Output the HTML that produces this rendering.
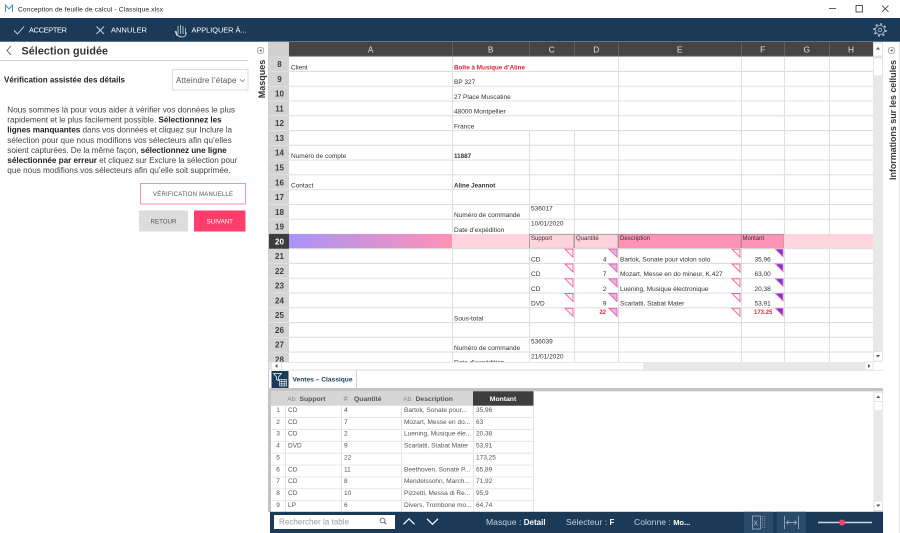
<!DOCTYPE html>
<html><head><meta charset="utf-8"><style>
html,body{margin:0;padding:0;background:#fff;}
svg{display:block;font-family:"Liberation Sans",sans-serif;}
</style></head><body>
<svg width="900" height="533" viewBox="0 0 900 533" xmlns="http://www.w3.org/2000/svg" font-family="'Liberation Sans', sans-serif">
<defs>
<linearGradient id="g1" x1="0" x2="1" y1="0" y2="0"><stop offset="0" stop-color="#a993f7"/><stop offset="1" stop-color="#ff92b6"/></linearGradient>
<clipPath id="gc"><rect x="269" y="42" width="604" height="320"/></clipPath>
</defs>
<rect x="0" y="0" width="900" height="533" fill="#fff"/>
<!-- title bar -->
<path d="M5.5 12 V5 L9 9 L12.5 5 V12" stroke="#3b8ed8" stroke-width="1" fill="none"/>
<text x="18" y="11.3" font-size="6.6" fill="#222" textLength="145">Conception de feuille de calcul - Classique.xlsx</text>
<line x1="829" y1="8.5" x2="836" y2="8.5" stroke="#333" stroke-width="0.8"/>
<rect x="856" y="5.5" width="6.5" height="6.5" fill="none" stroke="#333" stroke-width="0.8"/>
<path d="M882 5.5 L888.5 12 M888.5 5.5 L882 12" stroke="#333" stroke-width="0.8"/>
<!-- toolbar -->
<rect x="0" y="18" width="900" height="23.7" fill="#1a3a58"/>
<polyline points="14,30.5 17.5,34 24,26.5" fill="none" stroke="#cfd8e0" stroke-width="0.9"/>
<text x="29" y="32.4" font-size="7.4" fill="#fff" textLength="38">ACCEPTER</text>
<path d="M96.5 26.5 L104 34 M104 26.5 L96.5 34" stroke="#cfd8e0" stroke-width="0.9"/>
<text x="111" y="32.4" font-size="7.4" fill="#fff" textLength="36">ANNULER</text>
<path d="M177 36 L175 31 M178 34 V26 M180.5 34 V25 M183 34 V26 M185.5 34 V28 M176 31 Q177 37 182 37 Q186.5 37 186 32" stroke="#cfd8e0" fill="none" stroke-width="0.8"/>
<text x="191.5" y="32.4" font-size="7.4" fill="#fff" textLength="55">APPLIQUER À...</text>
<circle cx="880" cy="30" r="4.6" fill="none" stroke="#b8c4d0" stroke-width="0.8"/>
<circle cx="880" cy="30" r="6" fill="none" stroke="#b8c4d0" stroke-width="1.6" stroke-dasharray="2 2.7"/>
<circle cx="880" cy="30" r="1.8" fill="none" stroke="#b8c4d0" stroke-width="0.8"/>
<!-- left panel -->
<polyline points="11,46 7,50.5 11,55" fill="none" stroke="#555" stroke-width="0.9"/>
<text x="21.5" y="54.3" font-size="10.7" font-weight="bold" fill="#333" textLength="86.5">Sélection guidée</text>
<line x1="0" y1="60.5" x2="248" y2="60.5" stroke="#d2d2d2" stroke-width="1"/>
<circle cx="260.5" cy="50.5" r="3.3" fill="none" stroke="#888" stroke-width="0.7"/>
<polygon points="259.2,50.5 261.5,49 261.5,52" fill="#555"/>
<text transform="translate(264.8,79) rotate(-90)" text-anchor="middle" font-size="9" font-weight="bold" fill="#333">Masques</text>
<text x="4" y="82.7" font-size="8" font-weight="bold" fill="#222" textLength="121">Vérification assistée des détails</text>
<rect x="172.5" y="69.5" width="75.5" height="20.5" fill="#fff" stroke="#dcdcdc" stroke-width="1"/>
<text x="176" y="83" font-size="8" fill="#555" textLength="60.5">Atteindre l’étape</text>
<polyline points="240,79.3 242.5,81.8 245,79.3" fill="none" stroke="#777" stroke-width="0.7"/>
<g font-size="8.2" fill="#444">
<text x="7.3" y="112.3" textLength="227.7">Nous sommes là pour vous aider à vérifier vos données le plus</text>
<text x="7.3" y="122.45" textLength="214.4">rapidement et le plus facilement possible. <tspan font-weight="bold" fill="#222">Sélectionnez les</tspan></text>
<text x="7.3" y="132.6" textLength="224.7"><tspan font-weight="bold" fill="#222">lignes manquantes</tspan> dans vos données et cliquez sur Inclure la</text>
<text x="7.3" y="142.75" textLength="224.4">sélection pour que nous modifions vos sélecteurs afin qu’elles</text>
<text x="7.3" y="152.9" textLength="219.4">soient capturées. De la même façon, <tspan font-weight="bold" fill="#222">sélectionnez une ligne</tspan></text>
<text x="7.3" y="163.05" textLength="230"><tspan font-weight="bold" fill="#222">sélectionnée par erreur</tspan> et cliquez sur Exclure la sélection pour</text>
<text x="7.3" y="173.2" textLength="223.4">que nous modifions vos sélecteurs afin qu’elle soit supprimée.</text>
</g>
<rect x="140.5" y="183.5" width="105" height="20.5" fill="#fff" stroke="#f590b4" stroke-width="1"/>
<text x="193" y="195.8" font-size="6" fill="#555" text-anchor="middle" textLength="80">VÉRIFICATION MANUELLE</text>
<rect x="139" y="210.5" width="49" height="21" fill="#dcdcdc"/>
<text x="163.5" y="223.3" font-size="6.2" fill="#555" text-anchor="middle">RETOUR</text>
<rect x="194" y="210.5" width="51.5" height="21" fill="#ff3d6c"/>
<text x="219.8" y="223.3" font-size="6.2" fill="#fff" text-anchor="middle">SUIVANT</text>
<!-- separator left of sheet -->
<rect x="268" y="42" width="1.2" height="470" fill="#cfcfcf"/>
<!-- grid -->
<g clip-path="url(#gc)">
<rect x="289" y="56.7" width="584" height="306" fill="#fff"/>
<rect x="289" y="42" width="584" height="14.7" fill="#454545"/>
<rect x="269" y="42" width="20" height="14.7" fill="#d0d0d0"/>
<rect x="269" y="56.7" width="20" height="306" fill="#d4d4d4"/>
<g stroke="#606060" stroke-width="1">
<line x1="452.5" y1="42" x2="452.5" y2="56.7"/><line x1="529.5" y1="42" x2="529.5" y2="56.7"/><line x1="574.5" y1="42" x2="574.5" y2="56.7"/><line x1="618.5" y1="42" x2="618.5" y2="56.7"/><line x1="741.5" y1="42" x2="741.5" y2="56.7"/><line x1="784.5" y1="42" x2="784.5" y2="56.7"/><line x1="829.5" y1="42" x2="829.5" y2="56.7"/>
</g>
<line x1="289" y1="56.3" x2="873" y2="56.3" stroke="#9a9a9a" stroke-width="0.8"/>
<g font-size="8.3" fill="#e2e2e2" text-anchor="middle">
<text x="370.7" y="52.3">A</text><text x="490.7" y="52.3">B</text><text x="551.7" y="52.3">C</text><text x="596.3" y="52.3">D</text><text x="679.7" y="52.3">E</text><text x="762.7" y="52.3">F</text><text x="806.7" y="52.3">G</text><text x="851" y="52.3">H</text>
</g>
<!-- row 20 band -->
<rect x="269" y="233.94" width="20" height="14.77" fill="#3c3c3c"/>
<rect x="289" y="233.94" width="163" height="14.77" fill="url(#g1)"/>
<rect x="452" y="233.94" width="77" height="14.77" fill="#ffd4df"/>
<rect x="529.5" y="234.4" width="44.5" height="14" fill="#ffd2de" stroke="#a3a3a3" stroke-width="1"/>
<rect x="574.5" y="234.4" width="43.5" height="14" fill="#ffd2de" stroke="#a3a3a3" stroke-width="1"/>
<rect x="618.5" y="234.4" width="122.5" height="14" fill="#ff93b7" stroke="#b58c99" stroke-width="1"/>
<rect x="741.5" y="234.4" width="42.5" height="14" fill="#ff93b7" stroke="#b58c99" stroke-width="1"/>
<rect x="784" y="233.94" width="89" height="14.77" fill="#ffd6e0"/>
<!-- horizontal gridlines -->
<g stroke="#e0e0e0" stroke-width="1.1">
<line x1="289" y1="71.47" x2="873" y2="71.47"/><line x1="289" y1="86.24" x2="873" y2="86.24"/><line x1="289" y1="101.01" x2="873" y2="101.01"/><line x1="289" y1="115.78" x2="873" y2="115.78"/><line x1="289" y1="130.55" x2="873" y2="130.55"/><line x1="289" y1="145.32" x2="873" y2="145.32"/><line x1="289" y1="160.09" x2="873" y2="160.09"/><line x1="289" y1="174.86" x2="873" y2="174.86"/><line x1="289" y1="189.63" x2="873" y2="189.63"/><line x1="289" y1="204.4" x2="873" y2="204.4"/><line x1="289" y1="219.17" x2="873" y2="219.17"/><line x1="289" y1="248.71" x2="873" y2="248.71"/><line x1="289" y1="263.48" x2="873" y2="263.48"/><line x1="289" y1="278.25" x2="873" y2="278.25"/><line x1="289" y1="293.02" x2="873" y2="293.02"/><line x1="289" y1="307.79" x2="873" y2="307.79"/><line x1="289" y1="322.56" x2="873" y2="322.56"/><line x1="289" y1="337.33" x2="873" y2="337.33"/><line x1="289" y1="352.1" x2="873" y2="352.1"/>
</g>
<g stroke="#e0e0e0" stroke-width="1.1">
<line x1="452.5" y1="56.7" x2="452.5" y2="233.94"/><line x1="452.5" y1="248.71" x2="452.5" y2="362"/>
<line x1="529.5" y1="130.55" x2="529.5" y2="233.94"/><line x1="529.5" y1="248.71" x2="529.5" y2="362"/>
<line x1="574.5" y1="130.55" x2="574.5" y2="233.94"/><line x1="574.5" y1="248.71" x2="574.5" y2="362"/>
<line x1="618.5" y1="56.7" x2="618.5" y2="233.94"/><line x1="618.5" y1="248.71" x2="618.5" y2="362"/>
<line x1="741.5" y1="56.7" x2="741.5" y2="233.94"/><line x1="741.5" y1="248.71" x2="741.5" y2="362"/>
<line x1="784.5" y1="56.7" x2="784.5" y2="362"/>
<line x1="829.5" y1="56.7" x2="829.5" y2="362"/>
</g>
<!-- row header separators -->
<g stroke="#e6e6e6" stroke-width="0.8">
<line x1="269" y1="71.47" x2="289" y2="71.47"/><line x1="269" y1="86.24" x2="289" y2="86.24"/><line x1="269" y1="101.01" x2="289" y2="101.01"/><line x1="269" y1="115.78" x2="289" y2="115.78"/><line x1="269" y1="130.55" x2="289" y2="130.55"/><line x1="269" y1="145.32" x2="289" y2="145.32"/><line x1="269" y1="160.09" x2="289" y2="160.09"/><line x1="269" y1="174.86" x2="289" y2="174.86"/><line x1="269" y1="189.63" x2="289" y2="189.63"/><line x1="269" y1="204.4" x2="289" y2="204.4"/><line x1="269" y1="219.17" x2="289" y2="219.17"/><line x1="269" y1="263.48" x2="289" y2="263.48"/><line x1="269" y1="278.25" x2="289" y2="278.25"/><line x1="269" y1="293.02" x2="289" y2="293.02"/><line x1="269" y1="307.79" x2="289" y2="307.79"/><line x1="269" y1="322.56" x2="289" y2="322.56"/><line x1="269" y1="337.33" x2="289" y2="337.33"/><line x1="269" y1="352.1" x2="289" y2="352.1"/>
</g>
<g font-size="8" font-weight="bold" fill="#3d3d3d" text-anchor="middle">
<text x="279.5" y="67.1">8</text><text x="279.5" y="81.9">9</text><text x="279.5" y="96.6">10</text><text x="279.5" y="111.4">11</text><text x="279.5" y="126.2">12</text><text x="279.5" y="140.9">13</text><text x="279.5" y="155.7">14</text><text x="279.5" y="170.5">15</text><text x="279.5" y="185.3">16</text><text x="279.5" y="200">17</text><text x="279.5" y="214.8">18</text><text x="279.5" y="229.6">19</text><text x="279.5" y="244.3" fill="#fff">20</text><text x="279.5" y="259.1">21</text><text x="279.5" y="273.9">22</text><text x="279.5" y="288.6">23</text><text x="279.5" y="303.4">24</text><text x="279.5" y="318.2">25</text><text x="279.5" y="333">26</text><text x="279.5" y="347.7">27</text><text x="279.5" y="362.5">28</text>
</g>
<!-- cell texts -->
<g font-size="6.5" fill="#333">
<text x="291" y="69.3">Client</text>
<text x="454" y="69.3" font-weight="bold" fill="#e0233c" font-size="6.3">Boîte à Musique d’Aline</text>
<text x="454" y="84.07">BP 327</text>
<text x="454" y="98.84">27 Place Muscatine</text>
<text x="454" y="113.61">48000 Montpellier</text>
<text x="454" y="128.38">France</text>
<text x="291" y="157.92">Numéro de compte</text>
<text x="454" y="157.92" font-weight="bold" font-size="6.3">11887</text>
<text x="291" y="187.46">Contact</text>
<text x="454" y="187.46" font-weight="bold" font-size="6.3">Aline Jeannot</text>
<text x="454" y="217">Numéro de commande</text>
<text x="531" y="210.7">536017</text>
<text x="454" y="231.77">Date d’expédition</text>
<text x="531" y="225.47">10/01/2020</text>
<text x="531" y="240.2" font-size="6">Support</text>
<text x="576" y="240.2" font-size="6">Quantité</text>
<text x="620" y="240.2" font-size="6">Description</text>
<text x="742.5" y="240.2" font-size="6">Montant</text>
<text x="531" y="261.31">CD</text><text x="606.5" y="261.31" text-anchor="end">4</text><text x="620" y="261.31">Bartok, Sonate pour violon solo</text><text x="754.5" y="261.31">35,96</text>
<text x="531" y="276.08">CD</text><text x="606.5" y="276.08" text-anchor="end">7</text><text x="620" y="276.08">Mozart, Messe en do mineur, K.427</text><text x="754.5" y="276.08">63,00</text>
<text x="531" y="290.85">CD</text><text x="606.5" y="290.85" text-anchor="end">2</text><text x="620" y="290.85">Luening, Musique électronique</text><text x="754.5" y="290.85">20,38</text>
<text x="531" y="305.62">DVD</text><text x="606.5" y="305.62" text-anchor="end">9</text><text x="620" y="305.62">Scarlatti, Stabat Mater</text><text x="754.5" y="305.62">53,91</text>
<text x="454" y="320.39">Sous-total</text>
<text x="606" y="314.1" text-anchor="end" fill="#f0203c" font-weight="bold" font-size="6">22</text>
<text x="754" y="314.1" fill="#f0203c" font-weight="bold" font-size="6">173.25</text>
<text x="454" y="349.93">Numéro de commande</text>
<text x="531" y="343.63">536039</text>
<text x="454" y="364.7">Date d’expédition</text>
<text x="531" y="358.4">21/01/2020</text>
</g>
<!-- triangles -->
<g stroke-width="0.9" stroke-linejoin="miter">
<g fill="#fff4f7" stroke="#ff5b8f">
<polygon points="565,249.2 573,249.2 573,257.2"/><polygon points="565,264 573,264 573,272"/><polygon points="565,278.8 573,278.8 573,286.8"/><polygon points="565,293.5 573,293.5 573,301.5"/><polygon points="565,308.3 573,308.3 573,316.3"/>
<polygon points="732,249.2 740,249.2 740,257.2"/><polygon points="732,264 740,264 740,272"/><polygon points="732,278.8 740,278.8 740,286.8"/><polygon points="732,293.5 740,293.5 740,301.5"/><polygon points="732,308.3 740,308.3 740,316.3"/>
</g>
<g fill="#dcb4f0" stroke="#f0609e">
<polygon points="609,249.2 617,249.2 617,257.2"/><polygon points="609,264 617,264 617,272"/><polygon points="609,278.8 617,278.8 617,286.8"/><polygon points="609,293.5 617,293.5 617,301.5"/><polygon points="609,308.3 617,308.3 617,316.3"/>
</g>
<g fill="#5e3bec" stroke="#ff6aa8">
<polygon points="775.5,249.2 783,249.2 783,256.7"/><polygon points="775.5,264 783,264 783,271.5"/><polygon points="775.5,278.8 783,278.8 783,286.3"/><polygon points="775.5,293.5 783,293.5 783,301"/><polygon points="775.5,308.3 783,308.3 783,315.8"/>
</g>
</g>
</g>
<!-- vertical scrollbar grid -->
<rect x="873" y="42" width="10" height="320" fill="#e8e8e8"/>
<rect x="873.5" y="43" width="9" height="13" fill="#fff" stroke="#dcdcdc" stroke-width="0.7"/>
<polygon points="876,49.5 880,49.5 878,47" fill="#555"/>
<rect x="873.5" y="58" width="9" height="18" fill="#fff" stroke="#dcdcdc" stroke-width="0.7"/>
<rect x="873.5" y="351.5" width="9" height="9.5" fill="#fff" stroke="#dcdcdc" stroke-width="0.7"/>
<polygon points="876,355 880,355 878,357.5" fill="#555"/>
<!-- horizontal scrollbar -->
<rect x="269" y="362" width="604" height="8.3" fill="#e8e8e8"/>
<rect x="271.5" y="362" width="10" height="8" fill="#fff" stroke="#dcdcdc" stroke-width="0.7"/>
<polygon points="275,366 277.5,364 277.5,368" fill="#555"/>
<rect x="281.5" y="362.3" width="362.5" height="7.7" fill="#fff" stroke="#dcdcdc" stroke-width="0.7"/>
<rect x="865" y="362" width="8" height="8" fill="#fff" stroke="#dcdcdc" stroke-width="0.7"/>
<polygon points="870.5,366 868,364 868,368" fill="#555"/>
<!-- tab strip -->
<rect x="271.5" y="371" width="17" height="17.5" fill="#1a3a58"/>
<path d="M273.5 373.5 H281.5 L278.5 377 V380.5 L276.5 379.5 V377 Z" fill="none" stroke="#fff" stroke-width="0.7"/>
<g stroke="#fff" stroke-width="0.6" fill="none"><rect x="279.5" y="379.5" width="7" height="6.5"/><line x1="279.5" y1="381.7" x2="286.5" y2="381.7"/><line x1="279.5" y1="383.9" x2="286.5" y2="383.9"/><line x1="281.8" y1="379.5" x2="281.8" y2="386"/><line x1="284.2" y1="379.5" x2="284.2" y2="386"/></g>
<text x="292.5" y="381.6" font-size="6.6" font-weight="bold" fill="#1a3a58" textLength="60">Ventes – Classique</text>
<line x1="356.5" y1="370.5" x2="356.5" y2="388" stroke="#cfcfcf" stroke-width="1"/>
<line x1="356.5" y1="370.5" x2="883" y2="370.5" stroke="#e2e2e2" stroke-width="0.8"/>
<rect x="268" y="388" width="615" height="3.3" fill="#c4c4c4"/>
<rect x="268" y="388" width="3" height="124" fill="#c4c4c4"/>
<!-- bottom table -->
<rect x="271" y="391.3" width="202" height="14.4" fill="#d6d6d6"/>
<rect x="473" y="391.3" width="60.5" height="14.4" fill="#3e3e3e"/>
<g font-size="6.8">
<text x="287.3" y="400.8" fill="#8a8a8a">Ab</text><text x="299.5" y="400.8" font-weight="bold" fill="#555">Support</text>
<text x="343.5" y="400.8" fill="#8a8a8a" font-size="7.5">#</text><text x="354" y="400.8" font-weight="bold" fill="#555">Quantité</text>
<text x="403" y="400.8" fill="#8a8a8a">Ab</text><text x="415.5" y="400.8" font-weight="bold" fill="#555">Description</text>
<text x="503" y="400.8" font-weight="bold" fill="#fff" text-anchor="middle">Montant</text>
</g>
<g stroke="#e4e4e4" stroke-width="0.9">
<line x1="271" y1="417.57" x2="533" y2="417.57"/><line x1="271" y1="429.44" x2="533" y2="429.44"/><line x1="271" y1="441.31" x2="533" y2="441.31"/><line x1="271" y1="453.18" x2="533" y2="453.18"/><line x1="271" y1="465.05" x2="533" y2="465.05"/><line x1="271" y1="476.92" x2="533" y2="476.92"/><line x1="271" y1="488.79" x2="533" y2="488.79"/><line x1="271" y1="500.66" x2="533" y2="500.66"/>
<line x1="285.5" y1="405.7" x2="285.5" y2="512"/><line x1="341.5" y1="405.7" x2="341.5" y2="512"/><line x1="401.5" y1="405.7" x2="401.5" y2="512"/><line x1="473.5" y1="405.7" x2="473.5" y2="512"/><line x1="533.5" y1="405.7" x2="533.5" y2="512"/>
</g>
<g font-size="6.5" fill="#555">
<g text-anchor="middle"><text x="278" y="411.9">1</text><text x="278" y="423.8">2</text><text x="278" y="435.6">3</text><text x="278" y="447.5">4</text><text x="278" y="459.4">5</text><text x="278" y="471.3">6</text><text x="278" y="483.1">7</text><text x="278" y="495">8</text><text x="278" y="506.9">9</text></g>
<text x="288" y="411.9">CD</text><text x="344" y="411.9">4</text><text x="404" y="411.9">Bartok, Sonate pour...</text><text x="476" y="411.9">35,96</text>
<text x="288" y="423.8">CD</text><text x="344" y="423.8">7</text><text x="404" y="423.8">Mozart, Messe en do...</text><text x="476" y="423.8">63</text>
<text x="288" y="435.6">CD</text><text x="344" y="435.6">2</text><text x="404" y="435.6">Luening, Musique éle...</text><text x="476" y="435.6">20,38</text>
<text x="288" y="447.5">DVD</text><text x="344" y="447.5">9</text><text x="404" y="447.5">Scarlatti, Stabat Mater</text><text x="476" y="447.5">53,91</text>
<text x="344" y="459.4">22</text><text x="476" y="459.4">173,25</text>
<text x="288" y="471.3">CD</text><text x="344" y="471.3">11</text><text x="404" y="471.3">Beethoven, Sonate P...</text><text x="476" y="471.3">65,89</text>
<text x="288" y="483.1">CD</text><text x="344" y="483.1">8</text><text x="404" y="483.1">Mendelssohn, March...</text><text x="476" y="483.1">71,92</text>
<text x="288" y="495">CD</text><text x="344" y="495">10</text><text x="404" y="495">Pizzetti, Messa di Re...</text><text x="476" y="495">95,9</text>
<text x="288" y="506.9">LP</text><text x="344" y="506.9">6</text><text x="404" y="506.9">Divers, Trombone mo...</text><text x="476" y="506.9">64,74</text>
</g>
<!-- bottom table scrollbar -->
<rect x="873.5" y="391.3" width="9.5" height="120.7" fill="#e8e8e8"/>
<rect x="874" y="392.3" width="8.7" height="9.4" fill="#fff" stroke="#dcdcdc" stroke-width="0.7"/>
<polygon points="876.3,398 880.3,398 878.3,395.5" fill="#555"/>
<rect x="874" y="401.7" width="8.7" height="9" fill="#fff" stroke="#dcdcdc" stroke-width="0.7"/>
<rect x="874" y="501" width="8.7" height="9.5" fill="#fff" stroke="#dcdcdc" stroke-width="0.7"/>
<polygon points="876.3,504.5 880.3,504.5 878.3,507" fill="#555"/>
<!-- status bar -->
<rect x="270" y="511.8" width="613" height="21.2" fill="#1a3a58"/>
<rect x="274" y="515" width="121" height="14" fill="#fff"/>
<text x="279" y="524.7" font-size="8.1" fill="#9a9a9a" textLength="70">Rechercher la table</text>
<circle cx="382.5" cy="520.5" r="2.4" fill="none" stroke="#555" stroke-width="0.8"/>
<line x1="384.3" y1="522.3" x2="386.3" y2="524.3" stroke="#555" stroke-width="0.9"/>
<polyline points="403.5,524.3 409,518.8 414.5,524.3" fill="none" stroke="#fff" stroke-width="1.2"/>
<polyline points="427,518.8 432.5,524.3 438,518.8" fill="none" stroke="#fff" stroke-width="1.2"/>
<g font-size="8.6" fill="#c6d1dc">
<text x="486" y="524.8">Masque : <tspan fill="#fff" font-weight="bold" font-size="8">Detail</tspan></text>
<text x="566" y="524.8">Sélecteur : <tspan fill="#fff" font-weight="bold" font-size="8">F</tspan></text>
<text x="634" y="524.8">Colonne : <tspan fill="#fff" font-weight="bold" font-size="7.5">Mo...</tspan></text>
</g>
<rect x="744" y="511.8" width="29.3" height="21.2" fill="#2a4a6a"/>
<rect x="776.7" y="511.8" width="29.3" height="21.2" fill="#2a4a6a"/>
<rect x="752.5" y="516" width="8" height="13" fill="none" stroke="#a9b9c9" stroke-width="0.7"/>
<text x="753.4" y="525.6" font-size="7" fill="#a9b9c9">X</text>
<line x1="762.5" y1="516" x2="762.5" y2="529" stroke="#a9b9c9" stroke-width="0.7" stroke-dasharray="1 1.2"/>
<line x1="764.8" y1="516" x2="764.8" y2="529" stroke="#a9b9c9" stroke-width="0.7" stroke-dasharray="1 1.2"/>
<g stroke="#a9b9c9" stroke-width="0.8" fill="none">
<line x1="784.5" y1="516" x2="784.5" y2="529"/><line x1="798.5" y1="516" x2="798.5" y2="529"/>
<line x1="786.5" y1="522.5" x2="796.5" y2="522.5"/>
<polyline points="788.5,520.5 786.5,522.5 788.5,524.5"/><polyline points="794.5,520.5 796.5,522.5 794.5,524.5"/>
</g>
<line x1="818" y1="522.5" x2="872" y2="522.5" stroke="#cfd6dd" stroke-width="1.6"/>
<circle cx="842" cy="522.5" r="3" fill="#ff3d6c"/>
<!-- right panel -->
<circle cx="891.5" cy="50.5" r="3.3" fill="none" stroke="#888" stroke-width="0.7"/>
<polygon points="890.2,50.5 892.5,49 892.5,52" fill="#555"/>
<text transform="translate(896,120) rotate(-90)" text-anchor="middle" font-size="9" font-weight="bold" fill="#3a3a3a" textLength="120">Informations sur les cellules</text>
<line x1="899.5" y1="42" x2="899.5" y2="533" stroke="#e2e2e2" stroke-width="1"/>
</svg>
</body></html>
